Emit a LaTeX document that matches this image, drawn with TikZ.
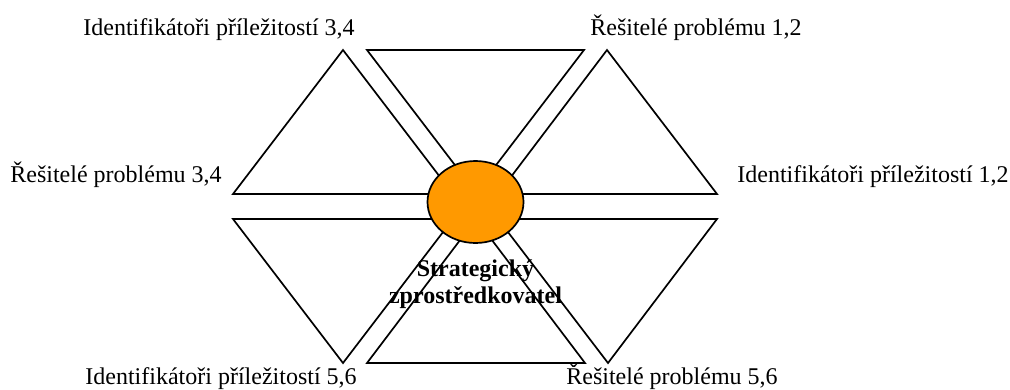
\documentclass[tikz,border=0pt]{standalone}
\usepackage{fontspec}
\setmainfont{Liberation Serif}
\usepackage{xcolor}
\usepackage{tikz}
\usetikzlibrary{
shapes.geometric,
positioning
}
\definecolor{huborange}{RGB}{255,153,0}

\begin{document}
\begin{tikzpicture}[
  x=1pt, y=-1pt,
  every node/.style={font=\fontsize{24}{27}\selectfont},
  tri/.style={draw=black, fill=white, line width=1.7pt, line join=miter},
  lbl/.style={anchor=base, inner sep=0pt}
]
\useasboundingbox (0,0) rectangle (1010,389);

%% Upper row of triangles
\draw[tri] (233,194) -- (343,50) -- (453,194) -- cycle;
\draw[tri] (367,50) -- (584,50) -- (475.5,192) -- cycle;
\draw[tri] (498,194) -- (607,50) -- (717,194) -- cycle;

%% Lower row of triangles
\draw[tri] (233,219) -- (453,219) -- (343,363) -- cycle;
\draw[tri] (367,363) -- (476,219) -- (585,363) -- cycle;
\draw[tri] (498,219) -- (717,219) -- (608,363) -- cycle;

%% Central ellipse
\node[draw=black, fill=huborange, ellipse, line width=1.7pt,
      minimum width=96pt, minimum height=82pt, inner sep=0pt]
  (hub) at (475.5,202) {};

\node[lbl, font=\fontsize{24}{27}\selectfont\bfseries, align=center]
  (hubtext) at (475.5,303) {Strategický\\zprostředkovatel};

%% Labels
\node[lbl] (idtl)  at (219,35)  {Identifikátoři příležitostí 3,4};
\node[lbl] (restr) at (696,35)  {Řešitelé problému 1,2};
\node[lbl] (resl)  at (116,182) {Řešitelé problému 3,4};
\node[lbl] (idr)   at (873,182) {Identifikátoři příležitostí 1,2};
\node[lbl] (idbl)  at (221,384) {Identifikátoři příležitostí 5,6};
\node[lbl] (resbr) at (672,384) {Řešitelé problému 5,6};

\end{tikzpicture}
\end{document}
